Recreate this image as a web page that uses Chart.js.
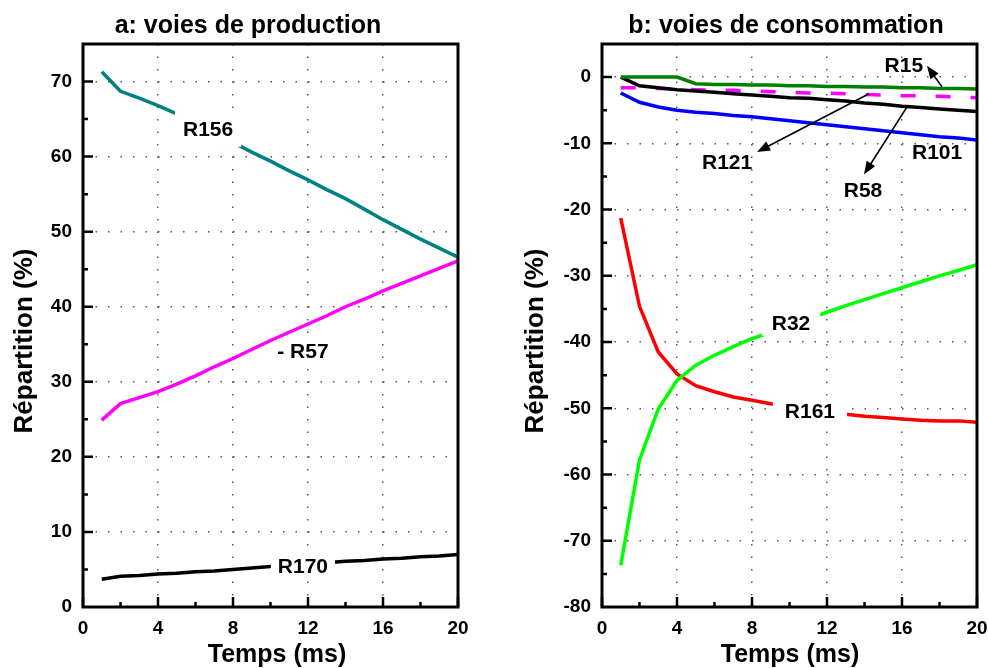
<!DOCTYPE html>
<html>
<head>
<meta charset="utf-8">
<script src="https://cdn.jsdelivr.net/npm/chart.js@4.4.1/dist/chart.umd.min.js"></script>
<style>
  html, body { margin: 0; padding: 0; background: #fff; }
  .panel { position: absolute; top: 0; width: 494px; height: 668px; }
  #left { left: 0; }
  #right { left: 494px; }
</style>
</head>
<body>
<div class="panel" id="left"><canvas id="prodChart" width="494" height="668"></canvas></div>
<div class="panel" id="right"><canvas id="consChart" width="494" height="668"></canvas></div>
<script>
// time axis (ms)
const temps = [1, 2, 3, 4, 5, 6, 7, 8, 9, 10, 11, 12, 13, 14, 15, 16, 17, 18, 19, 20];

// a: production pathways (%)
const r156 = [71.3, 68.7, 67.8, 66.8, 65.7, 64.4, 63.1, 61.9, 60.6, 59.4, 58.1, 56.9, 55.6, 54.4, 53.0, 51.6, 50.3, 49.0, 47.8, 46.6];
const r57 = [24.9, 27.1, 27.9, 28.7, 29.7, 30.8, 32.0, 33.1, 34.3, 35.5, 36.6, 37.7, 38.8, 40.0, 41.0, 42.1, 43.1, 44.1, 45.1, 46.1];
const r170 = [3.7, 4.1, 4.2, 4.4, 4.5, 4.7, 4.8, 5.0, 5.2, 5.4, 5.6, 5.8, 5.9, 6.1, 6.2, 6.4, 6.5, 6.7, 6.8, 7.0];

// b: consumption pathways (%)
const r15 = [0, 0, 0, 0, -1.0, -1.1, -1.1, -1.2, -1.2, -1.3, -1.3, -1.4, -1.4, -1.5, -1.5, -1.6, -1.6, -1.7, -1.7, -1.8];
const r121 = [-1.6, -1.6, -1.7, -1.8, -1.9, -2.0, -2.0, -2.1, -2.2, -2.3, -2.4, -2.4, -2.5, -2.6, -2.7, -2.8, -2.8, -2.9, -3.0, -3.1];
const r58 = [0, -1.3, -1.6, -1.9, -2.1, -2.3, -2.5, -2.7, -2.9, -3.1, -3.2, -3.4, -3.6, -3.9, -4.1, -4.4, -4.6, -4.8, -5.0, -5.2];
const r101 = [-2.4, -3.8, -4.5, -5.0, -5.3, -5.5, -5.8, -6.0, -6.3, -6.6, -6.9, -7.2, -7.5, -7.8, -8.1, -8.4, -8.7, -9.0, -9.2, -9.5];
const r32 = [-73.7, -57.8, -50.1, -45.8, -43.5, -42.0, -40.7, -39.5, -38.5, -37.5, -36.5, -35.5, -34.5, -33.6, -32.7, -31.8, -30.9, -30.0, -29.2, -28.3];
const r161 = [-21.3, -34.6, -41.5, -44.8, -46.6, -47.5, -48.3, -48.8, -49.3, -49.8, -50.2, -50.6, -50.9, -51.2, -51.4, -51.6, -51.8, -51.9, -51.9, -52.1];

// tick labels
const xTicks = [0, 4, 8, 12, 16, 20];

const FONT = 'Arial, "Liberation Sans", Helvetica, sans-serif';

function pts(ys) {
    return temps.map((t, i) => ({ x: t, y: ys[i] }));
}

function line(label, ys, color, dash) {
    return {
        label: label,
        data: pts(ys),
        borderColor: color,
        borderWidth: 3.5,
        borderDash: dash || [],
        pointRadius: 0,
        tension: 0,
        fill: false
    };
}

// draws frame, inward ticks, titles, in-plot labels and arrows
const decorPlugin = {
    id: 'decor',
    afterDraw(chart, args, opts) {
        const ctx = chart.ctx;
        const xs = chart.scales.x;
        const ys = chart.scales.y;
        const a = chart.chartArea;
        ctx.save();

        // labels with white background to break the lines
        ctx.font = 'bold 21px ' + FONT;
        ctx.textAlign = 'center';
        ctx.textBaseline = 'middle';
        opts.labels.forEach(l => {
            const px = xs.getPixelForValue(l.x);
            const py = ys.getPixelForValue(l.y);
            const w = ctx.measureText(l.text).width;
            if (l.pad) {
                ctx.fillStyle = '#fff';
                ctx.fillRect(px - w / 2 - l.pad[0], py - 9 - l.pad[1], w + 2 * l.pad[0], 18 + 2 * l.pad[1]);
            }
            ctx.fillStyle = '#000';
            ctx.fillText(l.text, px, py + 1);
        });

        // arrows
        (opts.arrows || []).forEach(ar => {
            const x1 = xs.getPixelForValue(ar.from[0]), y1 = ys.getPixelForValue(ar.from[1]);
            const x2 = xs.getPixelForValue(ar.to[0]), y2 = ys.getPixelForValue(ar.to[1]);
            const ang = Math.atan2(y2 - y1, x2 - x1);
            ctx.strokeStyle = '#000';
            ctx.lineWidth = 1.6;
            ctx.beginPath();
            ctx.moveTo(x1, y1);
            ctx.lineTo(x2 - 8 * Math.cos(ang), y2 - 8 * Math.sin(ang));
            ctx.stroke();
            ctx.fillStyle = '#000';
            ctx.beginPath();
            ctx.moveTo(x2, y2);
            ctx.lineTo(x2 - 13 * Math.cos(ang) + 5 * Math.sin(ang), y2 - 13 * Math.sin(ang) - 5 * Math.cos(ang));
            ctx.lineTo(x2 - 13 * Math.cos(ang) - 5 * Math.sin(ang), y2 - 13 * Math.sin(ang) + 5 * Math.cos(ang));
            ctx.closePath();
            ctx.fill();
        });

        // inward tick marks on left and bottom
        ctx.strokeStyle = '#000';
        ctx.lineWidth = 2.5;
        ctx.beginPath();
        for (let v = xs.min; v <= xs.max; v += 2) {
            const px = xs.getPixelForValue(v);
            const len = v % 4 === 0 ? 10 : 5;
            ctx.moveTo(px, a.bottom);
            ctx.lineTo(px, a.bottom - len);
        }
        for (let v = opts.yStart; v < ys.max; v += 5) {
            const py = ys.getPixelForValue(v);
            const len = v % 10 === 0 ? 10 : 5;
            ctx.moveTo(a.left, py);
            ctx.lineTo(a.left + len, py);
        }
        ctx.stroke();

        // frame
        ctx.lineWidth = 3;
        ctx.strokeRect(a.left, a.top, a.right - a.left, a.bottom - a.top);

        // titles
        ctx.fillStyle = '#000';
        ctx.textBaseline = 'alphabetic';
        ctx.textAlign = 'center';
        ctx.font = 'bold 25px ' + FONT;
        ctx.fillText(opts.title, opts.titleX, 33);
        ctx.font = 'bold 25px ' + FONT;
        ctx.fillText('Temps (ms)', opts.xTitleX, 662);
        ctx.font = 'bold 26px ' + FONT;
        ctx.translate(opts.yTitleX, 341);
        ctx.rotate(-Math.PI / 2);
        ctx.fillText('Répartition (%)', 0, 0);
        ctx.restore();
    }
};

function makeChart(id, datasets, yMin, yMax, yWidth, padRight, decor) {
    return new Chart(document.getElementById(id).getContext('2d'), {
        type: 'line',
        data: { datasets: datasets },
        plugins: [decorPlugin],
        options: {
            responsive: false,
            animation: false,
            layout: { padding: { top: 44, right: padRight, left: 0, bottom: 0 } },
            plugins: {
                legend: { display: false },
                tooltip: { enabled: false },
                decor: decor
            },
            scales: {
                x: {
                    type: 'linear',
                    min: 0,
                    max: 20,
                    afterBuildTicks: s => { s.ticks = xTicks.map(v => ({ value: v })); },
                    afterFit: s => { s.height = 61; s.paddingLeft = 0; s.paddingRight = 0; },
                    grid: {
                        drawTicks: false,
                        color: c => (c.tick && (c.tick.value === 0 || c.tick.value === 20)) ? 'rgba(0,0,0,0)' : '#555',
                        lineWidth: 1.5
                    },
                    border: { display: false, dash: [1.5, 11] },
                    ticks: { padding: 10, color: '#000', font: { family: FONT, size: 19, weight: 'bold' } }
                },
                y: {
                    min: yMin,
                    max: yMax,
                    afterBuildTicks: s => { s.ticks = s.ticks.filter(t => t.value % 10 === 0); },
                    afterFit: s => { s.width = yWidth; s.paddingTop = 0; s.paddingBottom = 0; },
                    grid: {
                        drawTicks: false,
                        color: c => (c.tick && c.tick.value === yMin) ? 'rgba(0,0,0,0)' : '#555',
                        lineWidth: 1.5
                    },
                    border: { display: false, dash: [1.5, 11] },
                    ticks: { stepSize: 10, padding: 11, color: '#000', font: { family: FONT, size: 19, weight: 'bold' } }
                }
            }
        }
    });
}

makeChart('prodChart', [
    line('R156', r156, '#008080'),
    line('R57', r57, '#ff00ff'),
    line('R170', r170, '#000000')
], 0, 75, 83, 36, {
    title: 'a: voies de production',
    titleX: 248,
    xTitleX: 277,
    yTitleX: 32,
    yStart: 5,
    labels: [
        { text: 'R156', x: 6.67, y: 63.7, pad: [8, 9] },
        { text: '- R57', x: 11.73, y: 34.1 },
        { text: 'R170', x: 11.73, y: 5.5, pad: [7, 2] }
    ]
});

makeChart('consChart', [
    line('R15', r15, '#008000'),
    line('R58', r58, '#000000'),
    line('R121', r121, '#ff00ff', [15, 20]),
    line('R101', r101, '#0000ff'),
    line('R32', r32, '#00ff00'),
    line('R161', r161, '#ff0000')
], -80, 5, 108, 11, {
    title: 'b: voies de consommation',
    titleX: 292,
    xTitleX: 296,
    yTitleX: 49,
    yStart: -75,
    labels: [
        { text: 'R15', x: 16.1, y: 1.86 },
        { text: 'R121', x: 6.67, y: -12.9 },
        { text: 'R58', x: 13.92, y: -17.0 },
        { text: 'R101', x: 17.87, y: -11.4 },
        { text: 'R32', x: 10.08, y: -37.1, pad: [10, 4] },
        { text: 'R161', x: 11.09, y: -50.5, pad: [12, 2] }
    ],
    arrows: [
        { from: [18.13, -1.46], to: [17.33, 1.7] },
        { from: [14.24, -2.5], to: [8.27, -11.3] },
        { from: [16.27, -4.5], to: [13.97, -14.7] }
    ]
});
</script>
</body>
</html>
